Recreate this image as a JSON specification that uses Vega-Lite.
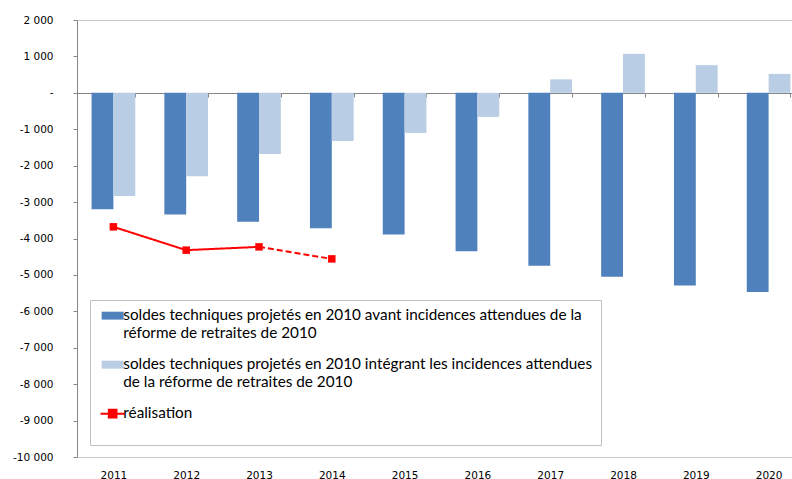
{
  "$schema": "https://vega.github.io/schema/vega-lite/v6.json",
  "width": 715,
  "height": 437,
  "autosize": {"type": "none"},
  "padding": {"left": 77, "top": 20, "right": 0, "bottom": 22},
  "background": "white",
  "config": {"view": {"stroke": null}, "font": "DejaVu Sans", "axisY": {"labelOverlap": false}},
  "datasets": {
    "bars": [
      {"year": "2011", "series": "soldes techniques projetés en 2010 avant incidences attendues de la réforme de retraites de 2010", "value": -3200},
      {"year": "2011", "series": "soldes techniques projetés en 2010 intégrant les incidences attendues de la réforme de retraites de 2010", "value": -2830},
      {"year": "2012", "series": "soldes techniques projetés en 2010 avant incidences attendues de la réforme de retraites de 2010", "value": -3340},
      {"year": "2012", "series": "soldes techniques projetés en 2010 intégrant les incidences attendues de la réforme de retraites de 2010", "value": -2290},
      {"year": "2013", "series": "soldes techniques projetés en 2010 avant incidences attendues de la réforme de retraites de 2010", "value": -3540},
      {"year": "2013", "series": "soldes techniques projetés en 2010 intégrant les incidences attendues de la réforme de retraites de 2010", "value": -1680},
      {"year": "2014", "series": "soldes techniques projetés en 2010 avant incidences attendues de la réforme de retraites de 2010", "value": -3720},
      {"year": "2014", "series": "soldes techniques projetés en 2010 intégrant les incidences attendues de la réforme de retraites de 2010", "value": -1320},
      {"year": "2015", "series": "soldes techniques projetés en 2010 avant incidences attendues de la réforme de retraites de 2010", "value": -3890},
      {"year": "2015", "series": "soldes techniques projetés en 2010 intégrant les incidences attendues de la réforme de retraites de 2010", "value": -1100},
      {"year": "2016", "series": "soldes techniques projetés en 2010 avant incidences attendues de la réforme de retraites de 2010", "value": -4350},
      {"year": "2016", "series": "soldes techniques projetés en 2010 intégrant les incidences attendues de la réforme de retraites de 2010", "value": -660},
      {"year": "2017", "series": "soldes techniques projetés en 2010 avant incidences attendues de la réforme de retraites de 2010", "value": -4750},
      {"year": "2017", "series": "soldes techniques projetés en 2010 intégrant les incidences attendues de la réforme de retraites de 2010", "value": 370},
      {"year": "2018", "series": "soldes techniques projetés en 2010 avant incidences attendues de la réforme de retraites de 2010", "value": -5050},
      {"year": "2018", "series": "soldes techniques projetés en 2010 intégrant les incidences attendues de la réforme de retraites de 2010", "value": 1070},
      {"year": "2019", "series": "soldes techniques projetés en 2010 avant incidences attendues de la réforme de retraites de 2010", "value": -5290},
      {"year": "2019", "series": "soldes techniques projetés en 2010 intégrant les incidences attendues de la réforme de retraites de 2010", "value": 760},
      {"year": "2020", "series": "soldes techniques projetés en 2010 avant incidences attendues de la réforme de retraites de 2010", "value": -5470},
      {"year": "2020", "series": "soldes techniques projetés en 2010 intégrant les incidences attendues de la réforme de retraites de 2010", "value": 520}
    ],
    "line": [
      {"year": "2011", "series": "réalisation", "seg": "solid", "value": -3680},
      {"year": "2012", "series": "réalisation", "seg": "solid", "value": -4320},
      {"year": "2013", "series": "réalisation", "seg": "solid", "value": -4230},
      {"year": "2013", "series": "réalisation", "seg": "dashed", "value": -4230},
      {"year": "2014", "series": "réalisation", "seg": "dashed", "value": -4560}
    ],
    "pts": [
      {"year": "2011", "series": "réalisation", "value": -3680},
      {"year": "2012", "series": "réalisation", "value": -4320},
      {"year": "2013", "series": "réalisation", "value": -4230},
      {"year": "2014", "series": "réalisation", "value": -4560}
    ]
  },
  "encoding": {
    "x": {
      "field": "year", "type": "nominal",
      "scale": {"range": [0, 728], "paddingInner": 0.4, "paddingOuter": 0.2},
      "axis": {
        "orient": "bottom", "offset": -364, "title": null,
        "domainColor": "#868686", "tickColor": "#868686", "tickSize": 4,
        "tickBand": "extent", "labelPadding": 373, "labelAngle": 0,
        "labelFont": "DejaVu Sans", "labelFontSize": 10.5, "labelFontWeight": "normal", "labelColor": "#000000",
        "grid": false
      }
    },
    "y": {
      "field": "value", "type": "quantitative",
      "scale": {"domain": [-10000, 2000], "nice": false, "zero": false},
      "axis": {
        "title": null,
        "values": [-10000, -9000, -8000, -7000, -6000, -5000, -4000, -3000, -2000, -1000, 0, 1000, 2000],
        "labelOverlap": false,
        "domainColor": "#868686", "tickColor": "#868686", "tickSize": 4,
        "labelPadding": 20, "labelFont": "DejaVu Sans", "labelFontSize": 10.5, "labelFontWeight": "normal", "labelColor": "#000000",
        "labelExpr": "datum.value === 0 ? '-\u00a0\u00a0' : (datum.value < 0 ? '-' : '') + replace(format(abs(datum.value), ','), ',', ' ')",
        "grid": true, "gridColor": "#c8c8c8",
        "gridOpacity": {"condition": {"test": "datum.value === 2000 || datum.value === -10000", "value": 1}, "value": 0}
      }
    }
  },
  "layer": [
    {
      "data": {"name": "bars"},
      "mark": {"type": "bar"},
      "encoding": {
        "xOffset": {
          "field": "series", "type": "nominal",
          "scale": {"domain": [
            "soldes techniques projetés en 2010 avant incidences attendues de la réforme de retraites de 2010",
            "soldes techniques projetés en 2010 intégrant les incidences attendues de la réforme de retraites de 2010"
          ], "paddingInner": 0, "paddingOuter": 0}
        },
        "color": {
          "field": "series", "type": "nominal",
          "scale": {
            "domain": [
              "soldes techniques projetés en 2010 avant incidences attendues de la réforme de retraites de 2010",
              "soldes techniques projetés en 2010 intégrant les incidences attendues de la réforme de retraites de 2010",
              "réalisation"
            ],
            "range": ["#4F81BD", "#B9CDE5", "#FF0000"]
          },
          "legend": {
            "orient": "none", "legendX": 13, "legendY": 280,
            "title": "\u00a0", "titleOrient": "bottom", "titleFontSize": 12, "titlePadding": 4,
            "direction": "vertical",
            "strokeColor": "#c0c0c0", "fillColor": "white", "padding": 8,
            "labelFont": "Lato", "labelFontSize": 15.3, "labelColor": "#000000",
            "labelLimit": 1000, "labelOffset": 3, "labelBaseline": "top",
            "symbolSize": 484, "symbolOffset": 7, "rowPadding": 15,
            "labelExpr": "datum.value === 'réalisation' ? 'réalisation' : (datum.value === 'soldes techniques projetés en 2010 avant incidences attendues de la réforme de retraites de 2010' ? ['soldes techniques projetés en 2010 avant incidences attendues de la', 'réforme de retraites de 2010'] : ['soldes techniques projetés en 2010 intégrant les incidences attendues', 'de la réforme de retraites de 2010'])",
            "encode": {
              "symbols": {
                "update": {
                  "shape": {"signal": "datum.value === 'réalisation' ? 'M-1.1,0H1.1M-0.35,-0.35H0.35V0.35H-0.35Z' : 'M-1,-0.36H1V0.36H-1Z'"},
                  "fill": {"signal": "scale('color', datum.value)"},
                  "stroke": {"signal": "scale('color', datum.value)"},
                  "strokeWidth": {"signal": "datum.value === 'réalisation' ? 2 : 0"},
                  "opacity": {"value": 1}
                }
              },
              "labels": {
                "update": {
                  "dy": {"value": -8},
                  "lineHeight": {"value": 18}
                }
              }
            }
          }
        }
      }
    },
    {
      "data": {"name": "line"},
      "mark": {"type": "line", "strokeWidth": 2},
      "encoding": {
        "detail": {"field": "seg", "type": "nominal"},
        "strokeDash": {"field": "seg", "type": "nominal", "scale": {"domain": ["solid", "dashed"], "range": [[1, 0], [6, 3]]}, "legend": null},
        "color": {"field": "series", "type": "nominal"}
      }
    },
    {
      "data": {"name": "pts"},
      "mark": {"type": "square", "size": 56, "opacity": 1, "filled": true},
      "encoding": {
        "color": {"field": "series", "type": "nominal"}
      }
    }
  ]
}
